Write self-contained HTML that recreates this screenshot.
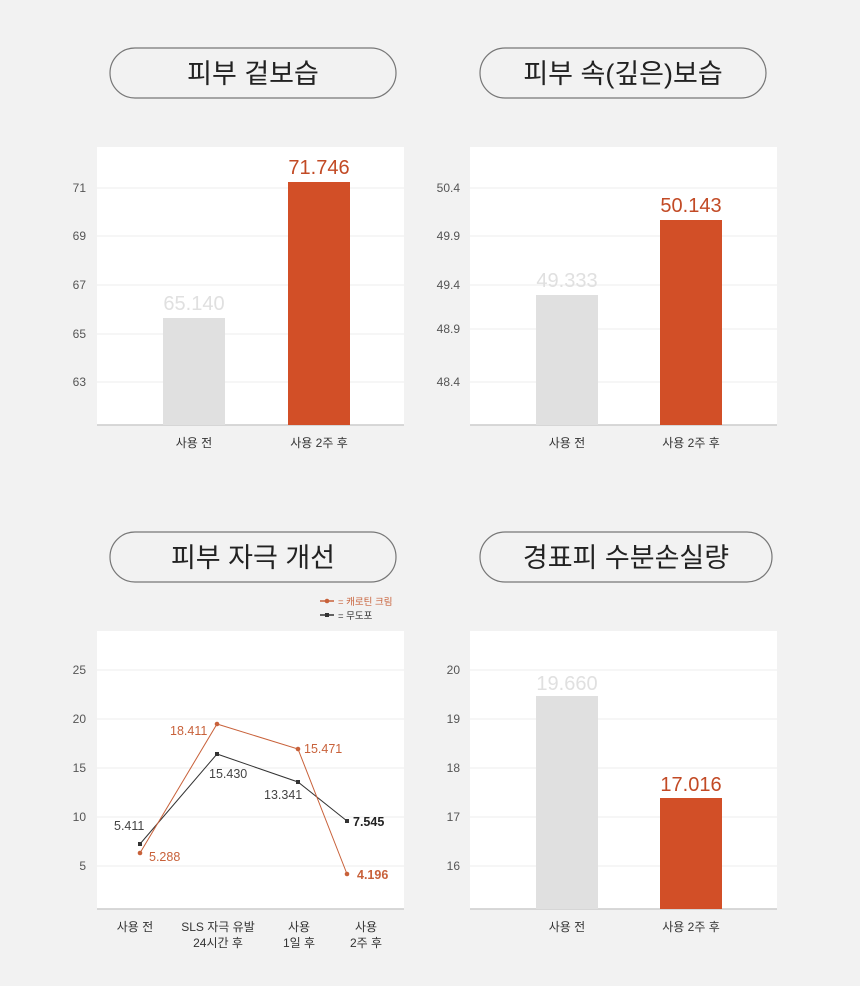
<!DOCTYPE html><html><head><meta charset="utf-8"><style>body{margin:0;background:#f2f2f2}svg{display:block}text{font-family:"Liberation Sans","Noto Sans CJK KR",sans-serif}</style></head><body>
<svg width="860" height="986" viewBox="0 0 860 986" xmlns="http://www.w3.org/2000/svg">
<rect width="860" height="986" fill="#f2f2f2"/>
<g fill="none" stroke="#777" stroke-width="1.2">
<rect x="110" y="48" width="286" height="50" rx="25"/>
<rect x="480" y="48" width="286" height="50" rx="25"/>
<rect x="110" y="532" width="286" height="50" rx="25"/>
<rect x="480" y="532" width="292" height="50" rx="25"/>
</g>
<g font-size="27" fill="#222" text-anchor="middle">
<text x="253" y="83">피부 겉보습</text>
<text x="623" y="83">피부 속(깊은)보습</text>
<text x="253" y="567">피부 자극 개선</text>
<text x="626" y="567">경표피 수분손실량</text>
</g>
<!-- panels -->
<g fill="#fff"><rect x="97" y="147" width="307" height="278"/><rect x="470" y="147" width="307" height="278"/><rect x="97" y="631" width="307" height="278"/><rect x="470" y="631" width="307" height="278"/></g>
<g stroke="#ececec" stroke-width="1">
<path d="M97 188H404M97 236H404M97 285H404M97 334H404M97 382H404"/>
<path d="M470 188H777M470 236H777M470 285H777M470 329H777M470 382H777"/>
<path d="M97 670H404M97 719H404M97 768H404M97 817H404M97 866H404"/>
<path d="M470 670H777M470 719H777M470 768H777M470 817H777M470 866H777"/>
</g>
<g stroke="#ccc" stroke-width="1.5"><path d="M97 425H404M470 425H777M97 909H404M470 909H777"/></g>
<g font-size="12" fill="#555" text-anchor="end">
<text x="86" y="192">71</text><text x="86" y="240">69</text><text x="86" y="289">67</text><text x="86" y="338">65</text><text x="86" y="386">63</text>
<text x="460" y="192">50.4</text><text x="460" y="240">49.9</text><text x="460" y="289">49.4</text><text x="460" y="333">48.9</text><text x="460" y="386">48.4</text>
<text x="86" y="674">25</text><text x="86" y="723">20</text><text x="86" y="772">15</text><text x="86" y="821">10</text><text x="86" y="870">5</text>
<text x="460" y="674">20</text><text x="460" y="723">19</text><text x="460" y="772">18</text><text x="460" y="821">17</text><text x="460" y="870">16</text>
</g>
<!-- bars -->
<rect x="163" y="318" width="62" height="107" fill="#e0e0e0"/><rect x="288" y="182" width="62" height="243" fill="#d24f27"/>
<rect x="536" y="295" width="62" height="130" fill="#e0e0e0"/><rect x="660" y="220" width="62" height="205" fill="#d24f27"/>
<rect x="536" y="696" width="62" height="213" fill="#e0e0e0"/><rect x="660" y="798" width="62" height="111" fill="#d24f27"/>
<g font-size="20" text-anchor="middle">
<text x="194" y="310" fill="#e0e0e0">65.140</text><text x="319" y="174" fill="#c24a25">71.746</text>
<text x="567" y="287" fill="#e0e0e0">49.333</text><text x="691" y="212" fill="#c24a25">50.143</text>
<text x="567" y="690" fill="#e0e0e0">19.660</text><text x="691" y="791" fill="#c24a25">17.016</text>
</g>
<g font-size="12" fill="#333" text-anchor="middle">
<text x="194" y="447">사용 전</text><text x="319" y="447">사용 2주 후</text>
<text x="567" y="447">사용 전</text><text x="691" y="447">사용 2주 후</text>
<text x="567" y="931">사용 전</text><text x="691" y="931">사용 2주 후</text>
<text x="135" y="931">사용 전</text><text x="218" y="931">SLS 자극 유발</text><text x="218" y="947">24시간 후</text>
<text x="299" y="931">사용</text><text x="299" y="947">1일 후</text><text x="366" y="931">사용</text><text x="366" y="947">2주 후</text>
</g>
<!-- lines -->
<polyline points="140,844 217,754 298,782 347,821" fill="none" stroke="#333" stroke-width="1"/>
<polyline points="140,853 217,724 298,749 347,874" fill="none" stroke="#c8613a" stroke-width="1"/>
<g fill="#333"><rect x="138" y="842" width="4" height="4"/><rect x="215" y="752" width="4" height="4"/><rect x="296" y="780" width="4" height="4"/><rect x="345" y="819" width="4" height="4"/></g>
<g fill="#c8613a"><circle cx="140" cy="853" r="2.3"/><circle cx="217" cy="724" r="2.3"/><circle cx="298" cy="749" r="2.3"/><circle cx="347" cy="874" r="2.3"/></g>
<g font-size="12.5">
<text x="114" y="830" fill="#444">5.411</text><text x="149" y="861" fill="#c8613a">5.288</text>
<text x="170" y="735" fill="#c8613a">18.411</text><text x="209" y="778" fill="#444">15.430</text>
<text x="304" y="753" fill="#c8613a">15.471</text><text x="264" y="799" fill="#444">13.341</text>
<text x="353" y="826" fill="#222" font-weight="bold">7.545</text><text x="357" y="879" fill="#c8613a" font-weight="bold">4.196</text>
</g>
<!-- legend -->
<path d="M320 601H334" stroke="#c8613a" stroke-width="1.5"/><circle cx="327" cy="601" r="2.3" fill="#c8613a"/>
<text x="338" y="605" font-size="9.5" fill="#c8613a">= 캐로틴 크림</text>
<path d="M320 615H334" stroke="#333" stroke-width="1.5"/><rect x="325" y="613" width="4" height="4" fill="#333"/>
<text x="338" y="619" font-size="9.5" fill="#333">= 무도포</text>
</svg></body></html>
